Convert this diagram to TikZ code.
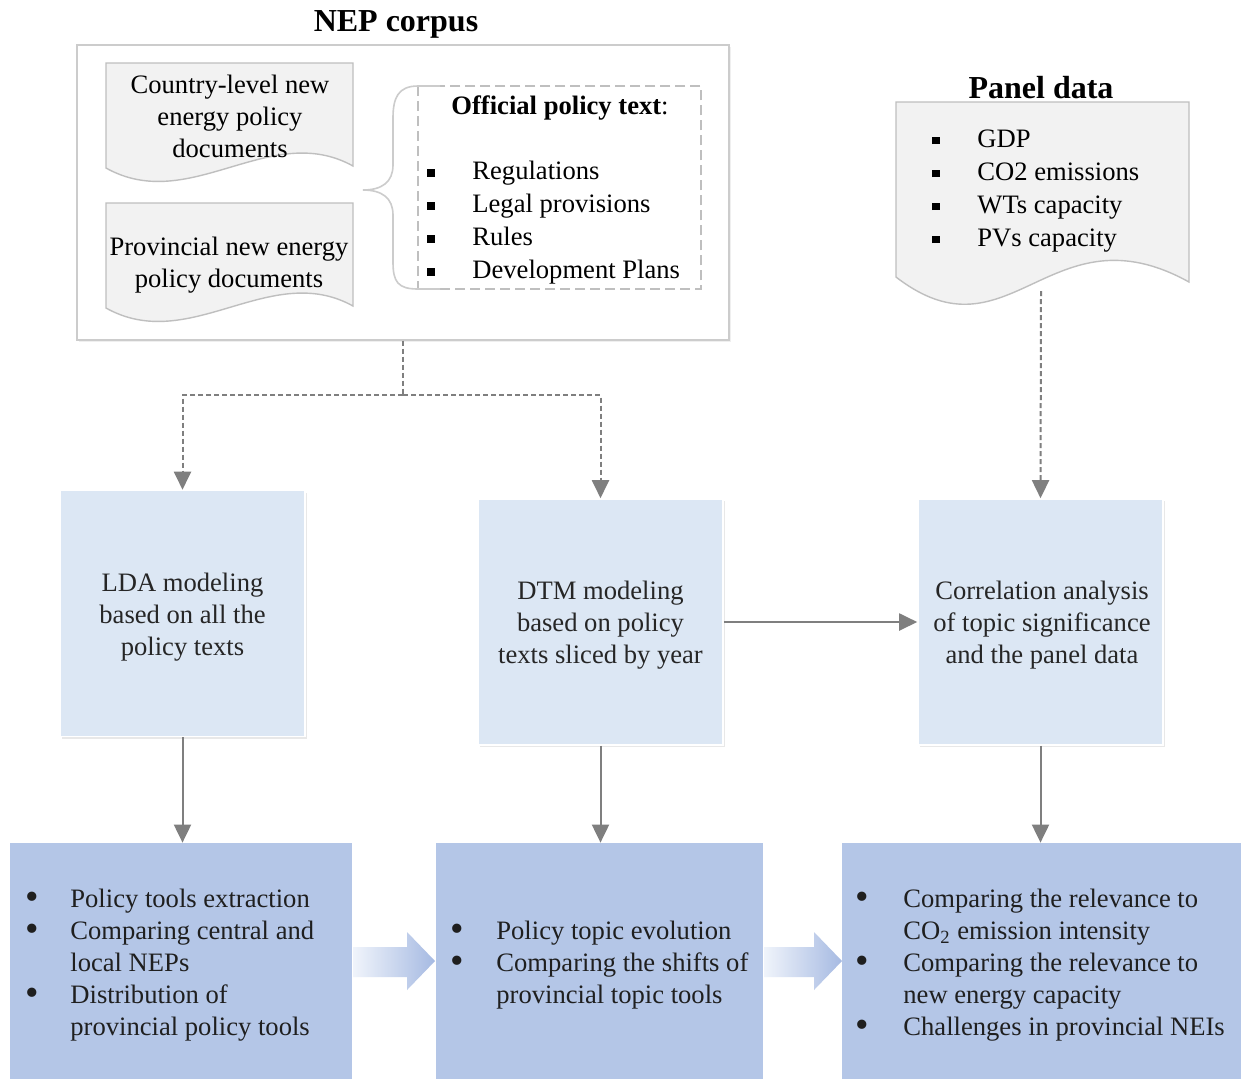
\documentclass[tikz,border=0pt]{standalone}
\usepackage{fontspec}
\setmainfont{Liberation Serif}
\usetikzlibrary{arrows.meta,shadows}
\definecolor{midblue}{HTML}{DCE7F4}
\definecolor{botblue}{HTML}{B4C6E7}
\definecolor{arrgray}{HTML}{7F7F7F}
\definecolor{docgray}{HTML}{F2F2F2}
\definecolor{linegray}{HTML}{BFBFBF}
\definecolor{bracegray}{HTML}{CCCCCC}
\definecolor{fatlight}{HTML}{F0F4FB}
\definecolor{fatdark}{HTML}{A6BAE2}
\newcommand{\mysq}[1]{\makebox[#1][l]{\rule[1.6pt]{3.8pt}{3.8pt}}}
\newcommand{\mybul}[1]{\makebox[#1][l]{\smash{\raisebox{-1.2pt}{\scalebox{1.45}{\textbullet}}}}}
\begin{document}
\begin{tikzpicture}[x=0.5pt,y=-0.5pt,
  txt/.style={font=\fontsize{13.3}{16}\selectfont, inner sep=0pt},
  ttl/.style={font=\fontsize{16}{19}\selectfont\bfseries, inner sep=0pt},
  midbox/.style={draw=white, line width=0.8pt, fill=midblue, minimum width=122.5pt, minimum height=123pt,
    align=center, inner sep=0pt, font=\fontsize{13.3}{16}\selectfont, text=black!85,
    drop shadow={opacity=0.18, shadow xshift=1.2pt, shadow yshift=-1.2pt}},
  midtxt/.style={txt, align=center, text=black!85},
  botbox/.style={draw=none, fill=botblue, minimum height=118pt, inner sep=0pt},
  docshape/.style={draw=linegray, fill=docgray, line width=0.7pt},
  conn/.style={draw=arrgray, line width=1pt, -{Triangle[length=9pt,width=8.5pt]}},
  dconn/.style={conn, dash pattern=on 2.5pt off 1.5pt},
  dline/.style={draw=arrgray, line width=1pt, dash pattern=on 2.5pt off 1.5pt},
  fatarrow/.style={left color=fatlight, right color=fatdark, draw=none}]
\useasboundingbox (0,0) rectangle (1247,1078);
\fill[white] (0,0) rectangle (1247,1078);

% ---------- NEP corpus ----------
\node[ttl] (neptitle) at (396,24) {NEP corpus};
\node[draw=linegray!80, fill=white, line width=0.7pt, minimum width=326pt, minimum height=147.5pt,
  drop shadow={opacity=0.12, shadow xshift=1pt, shadow yshift=-1pt}] (corpus) at (403,192.5) {};

\path[docshape] (106,63) -- (353,63) -- (353,166) .. controls (270,120) and (190,215) .. (106,168) -- cycle;
\node[txt, align=center] (doc1) at (230,116) {Country-level new\\energy policy\\documents};

\path[docshape] (106,203) -- (353,203) -- (353,306) .. controls (270,260) and (190,355) .. (106,308) -- cycle;
\node[txt, align=center] (doc2) at (229,265) {Provincial new energy\\policy documents};

% dashed box and brace
\draw[draw=linegray, line width=0.7pt, dash pattern=on 5pt off 2.5pt] (418,86) rectangle (701,289);
\draw[draw=bracegray, line width=0.8pt] (440,86) -- (418,86) .. controls (398,86) and (393,98) .. (393,118)
  -- (393,165) .. controls (393,182) and (382,190) .. (363,190)
  .. controls (382,190) and (393,198) .. (393,215) -- (393,262)
  .. controls (393,282) and (398,289) .. (418,289) -- (440,289);
\node[txt] (offtitle) at (560,108) {{\bfseries Official policy text}:};
\node[txt, anchor=west, align=left, font=\fontsize{13.3}{16.5}\selectfont] (offlist) at (427,223)
  {\mysq{22.5pt}Regulations\\\mysq{22.5pt}Legal provisions\\\mysq{22.5pt}Rules\\\mysq{22.5pt}Development Plans};

% ---------- Panel data ----------
\node[ttl] (paneltitle) at (1041,88) {Panel data};
\path[docshape] (896,102) -- (1189,102) -- (1189,282) .. controls (1050,205) and (1010,365) .. (896,277) -- cycle;
\node[txt, anchor=west, align=left, font=\fontsize{13.3}{16.5}\selectfont] (panellist) at (932,191)
  {\mysq{22.5pt}GDP\\\mysq{22.5pt}CO2 emissions\\\mysq{22.5pt}WTs capacity\\\mysq{22.5pt}PVs capacity};
\coordinate (pdbot) at (1041,291);

% ---------- middle row ----------
\node[midbox] (lda) at (182.5,613.5) {};
\node[midtxt] (ldatxt) at (182.5,617) {LDA modeling\\based on all the\\policy texts};
\node[midbox] (dtm) at (600.5,622) {};
\node[midtxt] (dtmtxt) at (600.5,625) {DTM modeling\\based on policy\\texts sliced by year};
\node[midbox] (corr) at (1040.5,622) {};
\node[midtxt] (corrtxt) at (1042,625) {Correlation analysis\\of topic significance\\and the panel data};

% ---------- bottom row ----------
\node[botbox, minimum width=171pt] (b1) at (181,961) {};
\node[botbox, minimum width=163.5pt] (b2) at (599.5,961) {};
\node[botbox, minimum width=199.5pt] (b3) at (1041.5,961) {};

\node[txt, anchor=west, align=left, text=black!88] (b1txt) at (25,965)
  {\mybul{22.5pt}Policy tools extraction\\\mybul{22.5pt}Comparing central and\\\hspace*{22.5pt}local NEPs\\\mybul{22.5pt}Distribution of\\\hspace*{22.5pt}provincial policy tools};
\node[txt, anchor=west, align=left, text=black!88] (b2txt) at (450,965)
  {\mybul{23pt}Policy topic evolution\\\mybul{23pt}Comparing the shifts of\\\hspace*{23pt}provincial topic tools};
\node[txt, anchor=west, align=left, text=black!88] (b3txt) at (855,965)
  {\mybul{24pt}Comparing the relevance to\\\hspace*{24pt}CO\textsubscript{2} emission intensity\\\mybul{24pt}Comparing the relevance to\\\hspace*{24pt}new energy capacity\\\mybul{24pt}Challenges in provincial NEIs};

% fat arrows
\path[fatarrow] (353,947) -- (407,947) -- (407,932) -- (435,961) -- (407,990) -- (407,977) -- (353,977) -- cycle;
\path[fatarrow] (764,947) -- (814,947) -- (814,932) -- (842,961) -- (814,990) -- (814,977) -- (764,977) -- cycle;

% ---------- connectors ----------
\coordinate (junc) at (corpus.south |- 0,395);
\draw[dline] (corpus.south) -- (junc);
\draw[dconn] (junc) -| (lda.north);
\draw[dconn] (junc) -| (dtm.north);
\draw[dconn] (pdbot) -- (corr.north);
\draw[conn] (dtm.east) -- (corr.west);
\draw[conn] (lda.south) -- (lda.south |- b1.north);
\draw[conn] (dtm.south) -- (dtm.south |- b2.north);
\draw[conn] (corr.south) -- (corr.south |- b3.north);
\end{tikzpicture}
\end{document}
